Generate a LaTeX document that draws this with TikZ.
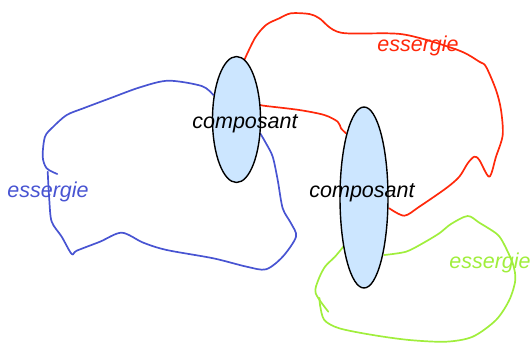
\documentclass[tikz,border=0pt]{standalone}
\usepackage{fontspec}
\setmainfont{Liberation Sans}
\usetikzlibrary{shapes.geometric}
\definecolor{bluel}{RGB}{72,84,210}
\definecolor{redl}{RGB}{255,40,10}
\definecolor{greenl}{RGB}{160,238,60}
\definecolor{compfill}{RGB}{204,230,255}
\tikzset{
  comp/.style={ellipse,draw=black,line width=1.4pt,fill=compfill,inner sep=0pt},
  lbl/.style={font=\fontsize{21.5}{25}\selectfont\itshape,inner sep=0pt},
  freeline/.style={line width=1.7pt,line join=round,line cap=round},
}
\begin{document}
\begin{tikzpicture}[x=1pt,y=-1pt]
\useasboundingbox (0,0) rectangle (532,345);
% blue
\draw[freeline,bluel] plot[smooth,tension=0.5] coordinates{(260,133) (266,143.3) (272.7,156.7) (277.7,180) (282.7,208.3) (291,223.3) (296,236.7) (282.7,256.7) (266,269.3) (246.7,266.7) (213.3,258.3) (166.7,250) (143.3,242.7) (121.7,232.7) (100,241.7) (76.7,250.7) (71.7,254) (61.7,236.7) (51.7,221.7) (49.3,200) (47.7,171.7)};
\draw[freeline,bluel] plot[smooth,tension=0.5] coordinates{(213.3,95) (201.7,86) (168.3,80.7) (140,87.3) (110,98.3) (83.3,108.3) (66.7,115) (53.3,126.7) (45,136.7) (42.7,156.7) (46.7,168.3) (57.3,174)};
% red
\draw[freeline,redl] plot[smooth,tension=0.5] coordinates{(244.3,60) (255,38) (266,25) (279.3,18.3) (291,13.3) (309.3,14) (319.3,18.3) (341,32.7) (402.7,34.3) (457.7,50) (479.3,61.7) (486,66.7) (496,90) (501,110) (502.7,135) (496,156.7) (489.3,176.7) (479.3,160) (474.3,156.7) (467.7,163.3) (459.3,176.7) (446,188.3) (419.3,206.7) (404.3,215.7) (389.3,208.3)};
\draw[freeline,redl] plot[smooth,tension=0.5] coordinates{(260,105) (266,106) (299.3,110) (324.3,115) (337.7,121.7) (341,128.3) (346,133.3)};
% green
\draw[freeline,greenl] plot[smooth,tension=0.5] coordinates{(384.3,255) (406,251.7) (422.7,243.3) (439.3,233.3) (451,224) (467.7,216) (479.3,222.7) (496,233.3) (502.7,241.7) (512.7,263.3) (515.3,280) (509.3,300) (496,320) (472.7,336.7) (446,341.7) (409.3,340) (372.7,335) (339.3,328.3) (324.3,320) (320,305) (319.5,298)};
\draw[freeline,greenl] plot[smooth,tension=0.5] coordinates{(343.3,246.7) (335,256.7) (325,266.7) (318.3,280) (315.7,293.3) (328.3,311.7)};
% components
\node[comp,minimum width=48,minimum height=126] (c1) at (236.5,119.5) {};
\node[comp,minimum width=48,minimum height=181] (c2) at (364,197.5) {};
\node[lbl] (t1) at (245,124) {composant};
\node[lbl] (t2) at (362,193) {composant};
\node[lbl,text=bluel] (e1) at (48,192) {essergie};
\node[lbl,text=redl] (e2) at (418,46) {essergie};
\node[lbl,text=greenl] (e3) at (490,263) {essergie};
\end{tikzpicture}
\end{document}
